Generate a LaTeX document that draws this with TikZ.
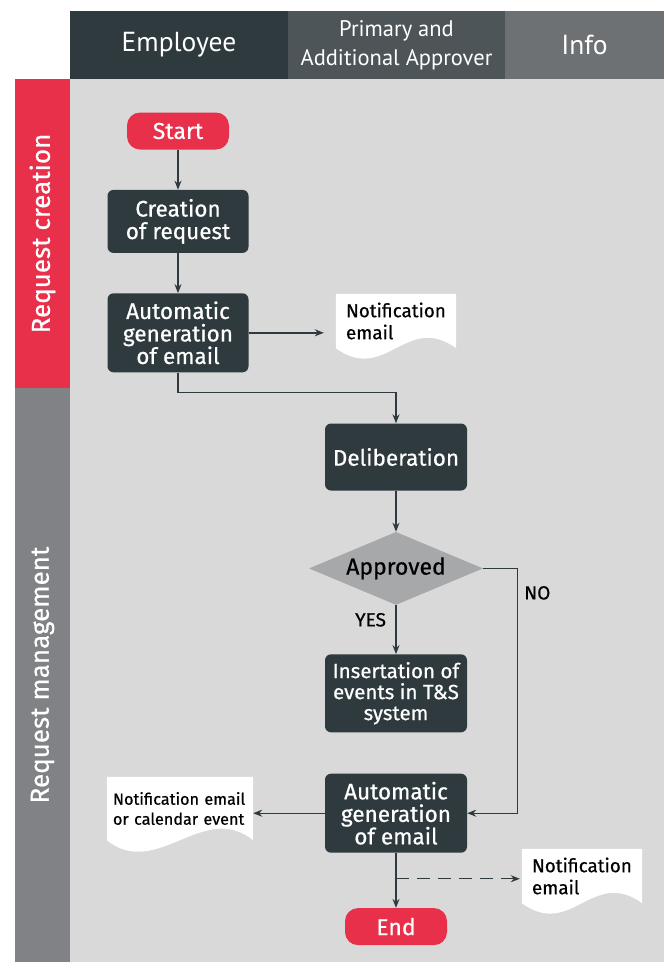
\documentclass[tikz,border=0pt]{standalone}
\usepackage{fontspec}
\setmainfont{Fira Sans}[FakeBold=0.6]
\newfontfamily\headfont{PT Sans}
\usetikzlibrary{arrows.meta,positioning,calc,backgrounds,shapes.geometric}
\definecolor{boxdark}{HTML}{2E3A3E}
\definecolor{apprgray}{HTML}{4D5558}
\definecolor{infogray}{HTML}{6E7174}
\definecolor{flowred}{HTML}{E9304B}
\definecolor{sidegray}{HTML}{808285}
\definecolor{bggray}{HTML}{D9D9D9}
\definecolor{decgray}{HTML}{A7A8AA}
\tikzset{stepbox/.style={rectangle,rounded corners=6pt,fill=boxdark,text=white,minimum width=141pt,align=center,inner sep=2pt,font=\fontsize{22.5}{22.5}\selectfont},
		terminal/.style={rectangle,rounded corners=13pt,fill=flowred,text=white,minimum width=102pt,minimum height=37pt,inner sep=0pt,font=\fontsize{23}{23}\selectfont},
		decision/.style={diamond,aspect=2.4,fill=decgray,minimum width=174pt,minimum height=73pt,inner sep=0pt,font=\fontsize{23}{23}\selectfont},
		doc/.style={rectangle,align=left,inner xsep=10pt,inner ysep=0pt,text width=100pt,font=\fontsize{18.8}{22}\selectfont},
		lane/.style={rectangle,text=white,minimum height=68pt,inner sep=0pt,align=center,font=\headfont\fontsize{27.5}{29}\selectfont},
		phase/.style={rectangle,text=white,minimum height=55pt,inner sep=0pt,rotate=90,font=\fontsize{26}{26}\selectfont},
		answer/.style={font=\fontsize{19}{19}\selectfont},
		post/.style={->,>={Stealth[length=9pt,width=7pt]},line width=1.4pt,draw=boxdark}}
% white paper sheet with a wavy lower edge behind a doc node
\newcommand{\docpaper}[2]{\fill[white] (#1.north west) -- (#1.north east) -- (#1.south east)
	.. controls ($(#1.south east)+(-50,-#2)$) and ($(#1.south west)+(50,#2)$) .. (#1.south west) -- cycle;}
\begin{document}
\begin{tikzpicture}[x=1pt,y=-1pt,node distance=40pt]
	\useasboundingbox (0,0) rectangle (664,962);
	\begin{scope}[on background layer]
		\fill[bggray] (70,79) rectangle (664,962);
	\end{scope}
	% lanes and phases
	\node[lane,fill=boxdark,minimum width=218pt] (employee) at (179,45) {Employee};
	\node[lane,fill=apprgray,minimum width=217pt,font=\headfont\fontsize{22.5}{29}\selectfont] (approver) at (396.5,45) {Primary and\\Additional Approver};
	\node[lane,fill=infogray,minimum width=159pt] (info) at (584.5,45) {Info};
	\node[phase,fill=flowred,minimum width=309pt] (creation) at (42.5,233.5) {Request creation};
	\node[phase,fill=sidegray,minimum width=574pt] (management) at (42.5,675) {Request management};
	
	% flow
	\node[terminal] (start) at (178,131) {Start};
	\node[stepbox,minimum height=63pt,below=of start] (create) {Creation\\of request};
	\node[stepbox,minimum height=79pt,below=of create] (autoA) {Automatic\\generation\\of email};
	\node[doc,minimum height=54pt] (mailA) at (396,321) {Notification\\email};
	\node[stepbox,minimum height=67pt,minimum width=142pt] (delib) at (396,457) {Deliberation};
	\node[decision,below=41pt of delib] (approved) {Approved};
	\node[stepbox,minimum height=78pt,minimum width=142pt,below=49pt of approved,font=\fontsize{20.5}{21}\selectfont] (insert) {Insertation of\\events in T\&S\\system};
	\node[stepbox,minimum height=79pt,minimum width=142pt,below=41pt of insert] (autoB) {Automatic\\generation\\of email};
	\node[terminal,below=55pt of autoB] (end) {End};
	\node[doc,minimum height=63pt,inner xsep=6pt,text width=134pt,font=\fontsize{16.2}{20}\selectfont] (mailB) at (180,808.5) {Notification email\\or calendar event};
	\node[doc,minimum height=54pt] (mailC) at (582,876) {Notification\\email};
	\begin{scope}[on background layer]
		\docpaper{mailA}{36}
		\docpaper{mailB}{40}
		\docpaper{mailC}{36}
	\end{scope}
	
	\draw[post] (start) -- (create);
	\draw[post] (create) -- (autoA);
	\draw[post,shorten >=12pt] (autoA.east) -- (autoA.east -| mailA.west);
	\draw[post] (autoA.south) -- ++(0,20) -| (delib.north);
	\draw[post] (delib) -- (approved);
	\draw[post] (approved) -- node[pos=0.3,left=6pt,answer] {YES} (insert);
	\draw[post] (approved.east) -- ++(34,0) |- node[pos=0.05,right=3pt,answer] {NO} (autoB.east);
	\draw[post] (autoB.west) -- (autoB.west -| mailB.east);
	\draw[post] (autoB) -- (end);
	\coordinate (split) at ($(autoB.south)!0.47!(end.north)$);
	\draw[post,dash pattern=on 13pt off 8pt,shorten >=2pt] (split) -- (split -| mailC.west);
\end{tikzpicture}
\end{document}
